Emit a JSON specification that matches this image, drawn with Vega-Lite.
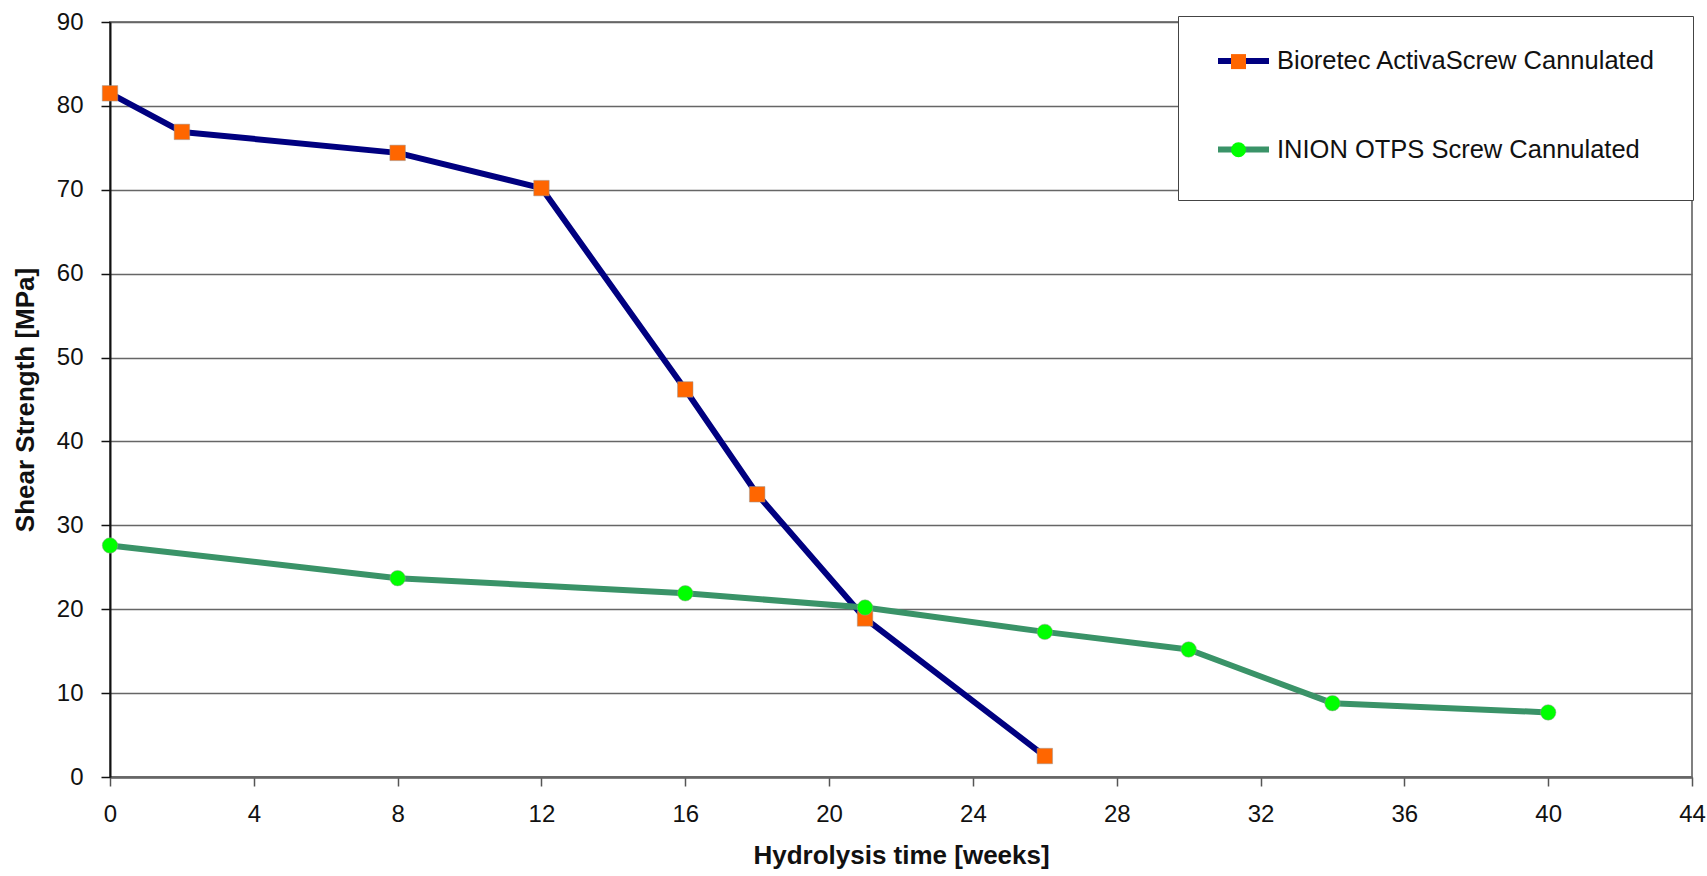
{
  "$schema": "https://vega.github.io/schema/vega-lite/v6.json",
  "width": 1582,
  "height": 755,
  "autosize": {"type": "none"},
  "padding": {"left": 110, "top": 22, "right": 15, "bottom": 99},
  "background": "white",
  "config": {
    "view": {"stroke": "#808080", "strokeWidth": 2},
    "font": "Liberation Sans"
  },
  "data": {
    "values": [
      {"series": "Bioretec ActivaScrew Cannulated", "weeks": 0, "strength": 81.5},
      {"series": "Bioretec ActivaScrew Cannulated", "weeks": 2, "strength": 76.9},
      {"series": "Bioretec ActivaScrew Cannulated", "weeks": 8, "strength": 74.4},
      {"series": "Bioretec ActivaScrew Cannulated", "weeks": 12, "strength": 70.2},
      {"series": "Bioretec ActivaScrew Cannulated", "weeks": 16, "strength": 46.2},
      {"series": "Bioretec ActivaScrew Cannulated", "weeks": 18, "strength": 33.7},
      {"series": "Bioretec ActivaScrew Cannulated", "weeks": 21, "strength": 18.9},
      {"series": "Bioretec ActivaScrew Cannulated", "weeks": 26, "strength": 2.5},
      {"series": "INION OTPS Screw Cannulated", "weeks": 0, "strength": 27.6},
      {"series": "INION OTPS Screw Cannulated", "weeks": 8, "strength": 23.7},
      {"series": "INION OTPS Screw Cannulated", "weeks": 16, "strength": 21.9},
      {"series": "INION OTPS Screw Cannulated", "weeks": 21, "strength": 20.2},
      {"series": "INION OTPS Screw Cannulated", "weeks": 26, "strength": 17.3},
      {"series": "INION OTPS Screw Cannulated", "weeks": 30, "strength": 15.2},
      {"series": "INION OTPS Screw Cannulated", "weeks": 34, "strength": 8.8},
      {"series": "INION OTPS Screw Cannulated", "weeks": 40, "strength": 7.7}
    ]
  },
  "encoding": {
    "x": {
      "field": "weeks",
      "type": "quantitative",
      "scale": {"domain": [0, 44], "nice": false, "zero": false},
      "axis": {
        "values": [0, 4, 8, 12, 16, 20, 24, 28, 32, 36, 40, 44],
        "grid": false,
        "domainColor": "#666666",
        "domainWidth": 2.5,
        "tickColor": "#555555",
        "tickSize": 9,
        "tickWidth": 1.5,
        "labelFontSize": 24,
        "labelColor": "#111111",
        "labelPadding": 16,
        "labelFlush": false,
        "title": "Hydrolysis time [weeks]",
        "titleFontSize": 26,
        "titleFontWeight": "bold",
        "titleColor": "#111111",
        "titlePadding": 16
      }
    },
    "y": {
      "field": "strength",
      "type": "quantitative",
      "scale": {"domain": [0, 90], "nice": false},
      "axis": {
        "values": [0, 10, 20, 30, 40, 50, 60, 70, 80, 90],
        "grid": true,
        "gridColor": "#666666",
        "gridWidth": 1.5,
        "domainColor": "#111111",
        "domainWidth": 2,
        "tickColor": "#111111",
        "tickSize": 9,
        "tickWidth": 1.5,
        "labelFontSize": 24,
        "labelColor": "#111111",
        "labelPadding": 18,
        "title": "Shear Strength [MPa]",
        "titleFontSize": 26,
        "titleFontWeight": "bold",
        "titleColor": "#111111",
        "titlePadding": 18
      }
    }
  },
  "layer": [
    {
      "mark": {"type": "line", "strokeWidth": 6, "strokeCap": "round", "strokeJoin": "round"},
      "encoding": {
        "stroke": {
          "field": "series",
          "type": "nominal",
          "scale": {
            "domain": ["Bioretec ActivaScrew Cannulated", "INION OTPS Screw Cannulated"],
            "range": ["#000080", "#3A9368"]
          },
          "legend": {
            "orient": "none",
            "legendX": 1068,
            "legendY": -6,
            "title": null,
            "symbolType": "stroke",
            "symbolSize": 2601,
            "symbolStrokeWidth": 6,
            "clipHeight": 16,
            "labelFontSize": 25.5,
            "labelLimit": 0,
            "labelColor": "#111111",
            "labelOffset": 5,
            "padding": 37,
            "rowPadding": 62.5,
            "fillColor": "white",
            "strokeColor": "#444444",
            "zindex": 1
          }
        }
      }
    },
    {
      "mark": {"type": "point", "filled": true, "opacity": 1, "size": 240, "stroke": "#999999", "strokeWidth": 0.5},
      "encoding": {
        "fill": {
          "field": "series",
          "type": "nominal",
          "scale": {"range": ["#FF6600", "#00FF00"]},
          "legend": {
            "orient": "none",
            "legendX": 1084,
            "legendY": -4.9,
            "title": null,
            "symbolSize": 225,
            "symbolStrokeWidth": 0,
            "labelFontSize": 1,
            "labelExpr": "''",
            "labelOpacity": 0,
            "labelOffset": 5,
            "padding": 37,
            "rowPadding": 73.1,
            "zindex": 2
          }
        },
        "shape": {
          "field": "series",
          "type": "nominal",
          "scale": {"range": ["square", "circle"]},
          "legend": {
            "orient": "none",
            "legendX": 1084,
            "legendY": -4.9,
            "title": null,
            "symbolSize": 225,
            "symbolStrokeWidth": 0,
            "labelFontSize": 1,
            "labelExpr": "''",
            "labelOpacity": 0,
            "labelOffset": 5,
            "padding": 37,
            "rowPadding": 73.1,
            "zindex": 2
          }
        }
      }
    }
  ]
}
